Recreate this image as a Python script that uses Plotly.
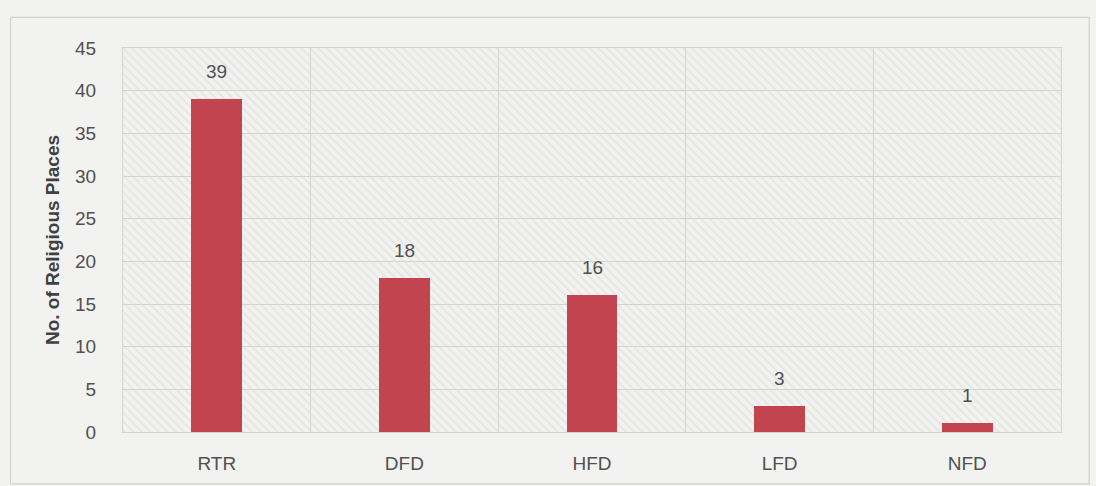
import plotly.graph_objects as go

categories = ["RTR", "DFD", "HFD", "LFD", "NFD"]
places = [39, 18, 16, 3, 1]
y_ticks = [0, 5, 10, 15, 20, 25, 30, 35, 40, 45]

FONT = "Liberation Sans Narrow, Arial Narrow, Liberation Sans, Arial, sans-serif"
BAR = "#c1444e"
GRID = "#d2d3d1"
TEXT = "#505050"

fig = go.Figure()

# hatched panel behind the bars
fig.add_trace(go.Bar(
    x=categories, y=[max(y_ticks)] * len(categories), width=1,
    marker=dict(color="rgba(0,0,0,0)", line=dict(width=0),
                pattern=dict(shape="\\", size=6, solidity=0.3,
                             fgcolor="#d6d7d5", bgcolor="rgba(0,0,0,0)")),
    hoverinfo="skip", showlegend=False,
))

fig.add_trace(go.Bar(
    x=categories, y=places, width=0.27,
    marker=dict(color=BAR, line=dict(width=0)),
    showlegend=False,
))

for c, v in zip(categories, places):
    fig.add_annotation(x=c, y=v, text=str(v), showarrow=False,
                       yanchor="bottom", yshift=15,
                       font=dict(family=FONT, size=19, color=TEXT))

# outer frame
fig.add_shape(type="rect", xref="paper", yref="paper",
              x0=-0.12, x1=1.03, y0=-0.135, y1=1.08,
              line=dict(color="#cfd0ce", width=1.2), fillcolor="rgba(0,0,0,0)",
              layer="below")

fig.update_layout(
    width=1096, height=486,
    margin=dict(l=123, r=35, t=48, b=54),
    paper_bgcolor="#f2f3f1",
    plot_bgcolor="#f2f3f1",
    barmode="overlay",
    bargap=0,
    font=dict(family=FONT, color=TEXT),
    xaxis=dict(
        type="category", tickson="boundaries", showgrid=True,
        gridcolor=GRID, gridwidth=1.2, ticks="", ticklen=0,
        showline=True, linecolor=GRID, linewidth=1.2, mirror=True,
        tickfont=dict(family=FONT, size=19, color=TEXT),
        ticklabelstandoff=14,
    ),
    yaxis=dict(
        range=[0, 45], tickvals=y_ticks, showgrid=True,
        gridcolor=GRID, gridwidth=1.2, zeroline=False,
        showline=True, linecolor=GRID, linewidth=1.2, mirror=True,
        tickfont=dict(family=FONT, size=19, color=TEXT),
        ticklabelstandoff=22,
        title=dict(text="<b>No. of Religious Places</b>", standoff=10,
                   font=dict(family=FONT, size=19, color="#404040")),
    ),
)

fig.write_html("out.html")
